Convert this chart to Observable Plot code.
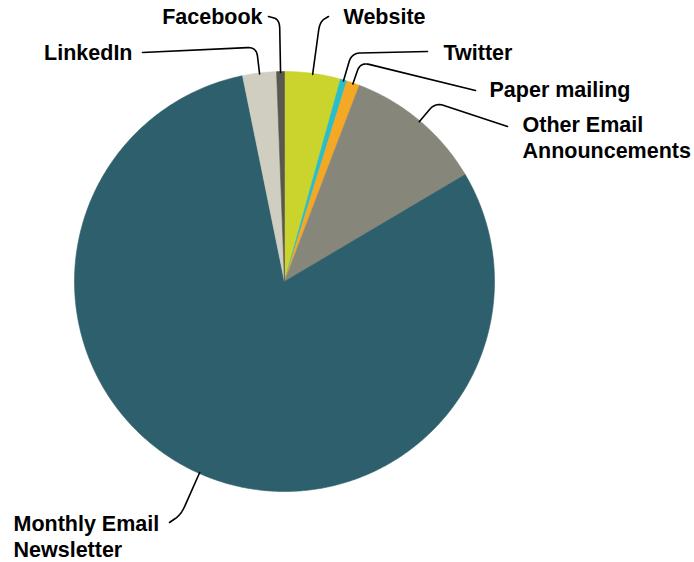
<!DOCTYPE html>
<html>
<head>
<meta charset="utf-8">
<script src="https://cdn.jsdelivr.net/npm/d3@7"></script>
<script src="https://cdn.jsdelivr.net/npm/@observablehq/plot@0.6"></script>
<style>
  html, body { margin: 0; padding: 0; background: #fff; }
  #chart svg { display: block; }
  #chart svg text { font-family: "Liberation Sans", Arial, Helvetica, sans-serif !important; }
</style>
</head>
<body>
<div id="chart"></div>
<script>
// ---- data (clockwise from 12 o'clock) ----
const categories = ["Website", "Twitter", "Paper mailing", "Other Email Announcements", "Monthly Email Newsletter", "LinkedIn", "Facebook"];
const shares = [4.3, 0.5, 1.0, 10.7, 80.3, 2.6, 0.6];
const colors = ["#cbd42c", "#2cbec8", "#f5a823", "#86877a", "#2e5f6d", "#d0cec0", "#58584e"];
const labelTexts = ["Website", "Twitter", "Paper mailing", "Other Email\nAnnouncements", "Monthly Email\nNewsletter", "LinkedIn", "Facebook"];

// ---- layout (pixels) ----
const W = 694, H = 562;
const cx = 284, cy = 281, R = 210;
const labelX = [343, 443, 489, 522, 13, 132, 262];
const labelTop = [6, 42, 79, 114, 513, 42, 6];
const labelAnchor = ["start", "start", "start", "start", "start", "end", "end"];
const leaderExt = [52, 28, 22, 24, 45, 26, 52];
const leaderTo = [[328, 16], [427, 51], [475, 90], [507, 126], [169, 522], [142, 52], [268, 16]];

// ---- geometry ----
const total = d3.sum(shares);
let acc = 0;
const slices = categories.map((c, i) => {
  const a0 = acc / total * 2 * Math.PI;
  acc += shares[i];
  const a1 = acc / total * 2 * Math.PI;
  return {c, i, a0, a1};
});
const pt = (a, r) => [cx + r * Math.sin(a), cy - r * Math.cos(a)];

const polyPts = [];
for (const s of slices) {
  polyPts.push({c: s.c, x: cx, y: cy});
  const n = Math.max(2, Math.ceil((s.a1 - s.a0) / (Math.PI / 360)));
  for (let k = 0; k <= n; k++) {
    const [x, y] = pt(s.a0 + (s.a1 - s.a0) * k / n, R);
    polyPts.push({c: s.c, x, y});
  }
  polyPts.push({c: s.c, x: cx, y: cy});
}

const leaderPts = [];
slices.forEach((s, i) => {
  const m = (s.a0 + s.a1) / 2;
  const p0 = pt(m, R - 1);
  const e = pt(m, R + leaderExt[i]);
  const end = leaderTo[i];
  const d1 = Math.hypot(p0[0] - e[0], p0[1] - e[1]);
  const d2 = Math.hypot(end[0] - e[0], end[1] - e[1]);
  const r1 = Math.min(9, d1 / 2), r2 = Math.min(9, d2 / 2);
  const a = [e[0] + (p0[0] - e[0]) * r1 / d1, e[1] + (p0[1] - e[1]) * r1 / d1];
  const b = [e[0] + (end[0] - e[0]) * r2 / d2, e[1] + (end[1] - e[1]) * r2 / d2];
  const pts = [p0, a];
  for (let k = 1; k < 12; k++) {
    const t = k / 12, u = 1 - t;
    pts.push([u * u * a[0] + 2 * u * t * e[0] + t * t * b[0], u * u * a[1] + 2 * u * t * e[1] + t * t * b[1]]);
  }
  pts.push(b, end);
  pts.forEach(([x, y]) => leaderPts.push({c: s.c, x, y}));
});

const labels = categories.map((c, i) => ({c, text: labelTexts[i], x: labelX[i], y: labelTop[i], anchor: labelAnchor[i]}));

const chart = Plot.plot({
  width: W,
  height: H,
  margin: 0,
  x: {domain: [0, W], range: [0, W], axis: null},
  y: {domain: [0, H], range: [0, H], axis: null},
  color: {domain: categories, range: colors},
  style: {background: "#fff"},
  marks: [
    Plot.line(polyPts, {x: "x", y: "y", z: "c", fill: "c", stroke: "c", strokeWidth: 0.6, curve: "linear"}),
    Plot.line(leaderPts, {x: "x", y: "y", z: "c", stroke: "#000", strokeWidth: 1.6, curve: "linear"}),
    ...["start", "end"].map(anc => Plot.text(labels.filter(d => d.anchor === anc), {
      x: "x", y: "y", text: "text",
      textAnchor: anc, lineAnchor: "top", lineHeight: 1.17,
      fontSize: 21.5, fontWeight: "bold", fill: "#000",
      fontFamily: "'Liberation Sans', Arial, Helvetica, sans-serif"
    }))
  ]
});
document.getElementById("chart").append(chart);
</script>
</body>
</html>
